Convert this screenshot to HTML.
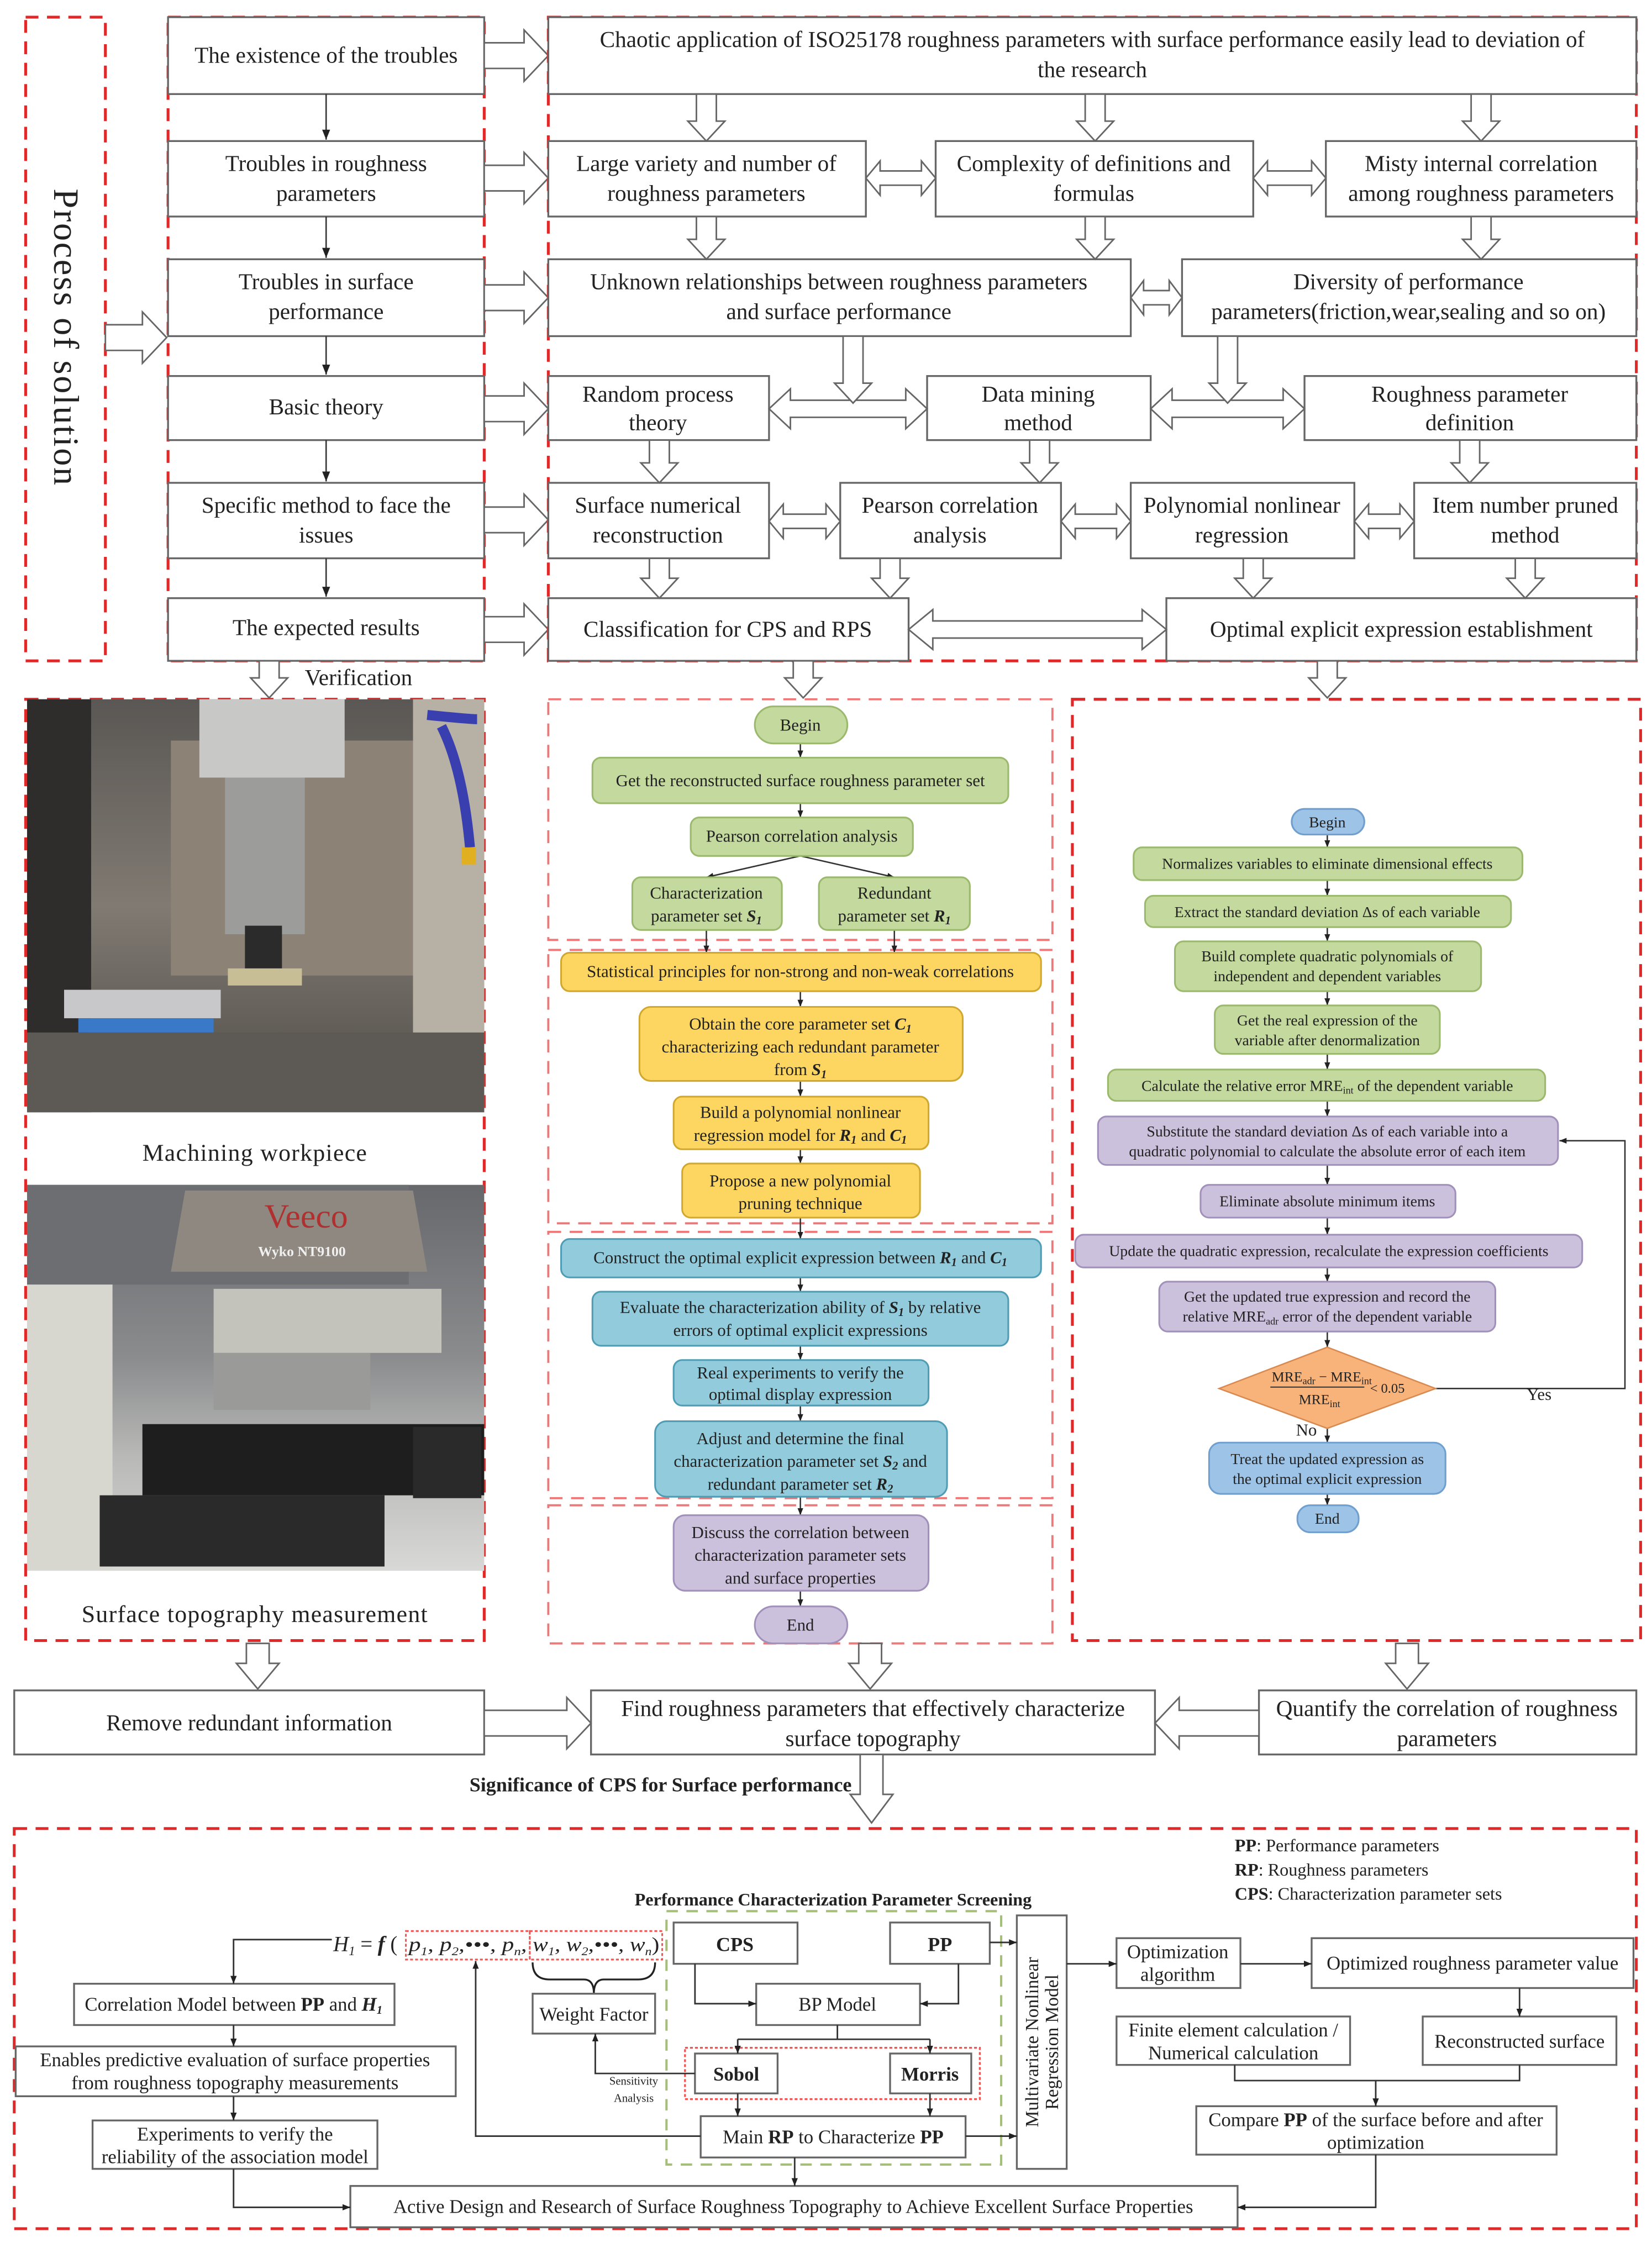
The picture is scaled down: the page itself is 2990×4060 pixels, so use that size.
<!DOCTYPE html>
<html><head><meta charset="utf-8"><style>
html,body{margin:0;padding:0;background:#fff;}
svg{display:block;}
text{font-family:"Liberation Serif",serif;fill:#222;}
.bx{fill:#fff;stroke:#666;stroke-width:1.3;}
.rd{fill:none;stroke:#e02828;stroke-width:2;stroke-dasharray:9 6;}
.rdl{fill:none;stroke:#ee7777;stroke-width:1.5;stroke-dasharray:9 6;}
.ha{fill:#fff;stroke:#666;stroke-width:1.1;}
.ln{fill:none;stroke:#333;stroke-width:1;}
.g{fill:#c4d99e;stroke:#9ab96c;stroke-width:1.2;}
.y{fill:#fdd561;stroke:#d0a830;stroke-width:1.2;}
.c{fill:#92ccdc;stroke:#4f9db4;stroke-width:1.2;}
.p{fill:#ccc1dc;stroke:#a090ba;stroke-width:1.2;}
.bl{fill:#9dc3e6;stroke:#6f9fcf;stroke-width:1.2;}
.t16{font-size:16px;text-anchor:middle;}
.t12{font-size:12px;text-anchor:middle;}
.t11{font-size:10.8px;text-anchor:middle;}
.t13{font-size:13.5px;text-anchor:middle;}
</style></head><body>
<svg width="2990" height="4060" viewBox="0 0 1160 1575" xmlns="http://www.w3.org/2000/svg">
<defs>
<marker id="ar" viewBox="0 0 10 10" refX="10" refY="5" markerWidth="7" markerHeight="7" orient="auto-start-reverse"><path d="M0 1 L10 5 L0 9 z" fill="#222"/></marker>
<marker id="as" viewBox="0 0 10 10" refX="10" refY="5" markerWidth="5" markerHeight="5" orient="auto-start-reverse"><path d="M0 1 L10 5 L0 9 z" fill="#222"/></marker>
<linearGradient id="ph1" x1="0" y1="0" x2="0" y2="1"><stop offset="0" stop-color="#5a5754"/><stop offset="0.5" stop-color="#807a72"/><stop offset="1" stop-color="#4e4b47"/></linearGradient>
<linearGradient id="ph2" x1="0" y1="0" x2="0" y2="1"><stop offset="0" stop-color="#66686c"/><stop offset="0.45" stop-color="#8a8c8e"/><stop offset="0.7" stop-color="#b8b8b6"/><stop offset="1" stop-color="#d8d8d6"/></linearGradient>
</defs>
<rect width="1160" height="1575" fill="#fff"/>

<!-- ============ TOP SECTION ============ -->
<rect class="rd" x="18" y="12" width="56" height="452"/>
<text transform="translate(38,237) rotate(90)" style="font-size:25px;text-anchor:middle;letter-spacing:1px">Process  of solution</text>
<path class="ha" d="M74 228 H100 v-9 l17 18 l-17 18 v-9 H74 z"/>

<rect class="rd" x="118" y="12" width="222" height="452"/>
<rect class="bx" x="118" y="12" width="222" height="54"/>
<rect class="bx" x="118" y="99" width="222" height="53"/>
<rect class="bx" x="118" y="182" width="222" height="54"/>
<rect class="bx" x="118" y="264" width="222" height="45"/>
<rect class="bx" x="118" y="339" width="222" height="53"/>
<rect class="bx" x="118" y="420" width="222" height="44"/>
<text class="t16" x="229" y="44">The existence of the troubles</text>
<text class="t16" x="229" y="120">Troubles in roughness</text><text class="t16" x="229" y="141">parameters</text>
<text class="t16" x="229" y="203">Troubles in surface</text><text class="t16" x="229" y="224">performance</text>
<text class="t16" x="229" y="291">Basic theory</text>
<text class="t16" x="229" y="360">Specific method to face the</text><text class="t16" x="229" y="381">issues</text>
<text class="t16" x="229" y="446">The expected results</text>
<g class="ln" marker-end="url(#ar)">
<line x1="229" y1="66" x2="229" y2="98"/><line x1="229" y1="152" x2="229" y2="181"/>
<line x1="229" y1="236" x2="229" y2="263"/><line x1="229" y1="309" x2="229" y2="338"/>
<line x1="229" y1="392" x2="229" y2="419"/>
</g>
<path class="ha" d="M340 30 H368 v-9 l17 18 l-17 18 v-9 H340 z"/>
<path class="ha" d="M340 116 H368 v-9 l17 18 l-17 18 v-9 H340 z"/>
<path class="ha" d="M340 200 H368 v-9 l17 18 l-17 18 v-9 H340 z"/>
<path class="ha" d="M340 278 H368 v-9 l17 18 l-17 18 v-9 H340 z"/>
<path class="ha" d="M340 356 H368 v-9 l17 18 l-17 18 v-9 H340 z"/>
<path class="ha" d="M340 433 H368 v-9 l17 18 l-17 18 v-9 H340 z"/>

<rect class="rd" x="385" y="12" width="764" height="452"/>
<rect class="bx" x="385" y="12" width="764" height="54"/>
<text class="t16" x="767" y="33">Chaotic application of ISO25178 roughness parameters with surface performance  easily lead to deviation of</text>
<text class="t16" x="767" y="54">the research</text>
<rect class="bx" x="385" y="99" width="223" height="53"/>
<rect class="bx" x="657" y="99" width="223" height="53"/>
<rect class="bx" x="931" y="99" width="218" height="53"/>
<text class="t16" x="496" y="120">Large variety and number of</text><text class="t16" x="496" y="141">roughness parameters</text>
<text class="t16" x="768" y="120">Complexity of definitions and</text><text class="t16" x="768" y="141">formulas</text>
<text class="t16" x="1040" y="120">Misty  internal correlation</text><text class="t16" x="1040" y="141">among roughness parameters</text>
<rect class="bx" x="385" y="182" width="409" height="54"/>
<rect class="bx" x="830" y="182" width="319" height="54"/>
<text class="t16" x="589" y="203">Unknown relationships between roughness parameters</text><text class="t16" x="589" y="224">and surface performance</text>
<text class="t16" x="989" y="203">Diversity of performance</text><text class="t16" x="989" y="224">parameters(friction,wear,sealing and so on)</text>
<rect class="bx" x="385" y="264" width="155" height="45"/>
<rect class="bx" x="651" y="264" width="157" height="45"/>
<rect class="bx" x="916" y="264" width="233" height="45"/>
<text class="t16" x="462" y="282">Random process</text><text class="t16" x="462" y="302">theory</text>
<text class="t16" x="729" y="282">Data mining</text><text class="t16" x="729" y="302">method</text>
<text class="t16" x="1032" y="282">Roughness parameter</text><text class="t16" x="1032" y="302">definition</text>
<rect class="bx" x="385" y="339" width="155" height="53"/>
<rect class="bx" x="590" y="339" width="155" height="53"/>
<rect class="bx" x="794" y="339" width="157" height="53"/>
<rect class="bx" x="993" y="339" width="156" height="53"/>
<text class="t16" x="462" y="360">Surface numerical</text><text class="t16" x="462" y="381">reconstruction</text>
<text class="t16" x="667" y="360">Pearson correlation</text><text class="t16" x="667" y="381">analysis</text>
<text class="t16" x="872" y="360">Polynomial nonlinear</text><text class="t16" x="872" y="381">regression</text>
<text class="t16" x="1071" y="360">Item number pruned</text><text class="t16" x="1071" y="381">method</text>
<rect class="bx" x="385" y="420" width="253" height="44"/>
<rect class="bx" x="819" y="420" width="330" height="44"/>
<text class="t16" x="511" y="447">Classification for CPS and RPS</text>
<text class="t16" x="984" y="447">Optimal explicit expression establishment</text>

<!-- double arrows -->
<path class="ha" d="M608 125 l10 -12 v7 H647 v-7 l10 12 l-10 12 v-7 H618 v7 z"/>
<path class="ha" d="M880 125 l10 -12 v7 H921 v-7 l10 12 l-10 12 v-7 H890 v7 z"/>
<path class="ha" d="M794 209 l9 -12 v7 H821 v-7 l9 12 l-9 12 v-7 H803 v7 z"/>
<path class="ha" d="M540 287 l15 -14 v8 H636 v-8 l15 14 l-15 14 v-8 H555 v8 z"/>
<path class="ha" d="M808 287 l15 -14 v8 H901 v-8 l15 14 l-15 14 v-8 H823 v8 z"/>
<path class="ha" d="M540 366 l10 -12 v7 H580 v-7 l10 12 l-10 12 v-7 H550 v7 z"/>
<path class="ha" d="M745 366 l10 -12 v7 H784 v-7 l10 12 l-10 12 v-7 H755 v7 z"/>
<path class="ha" d="M951 366 l10 -12 v7 H983 v-7 l10 12 l-10 12 v-7 H961 v7 z"/>
<path class="ha" d="M638 442 l17 -14 v8 H802 v-8 l17 14 l-17 14 v-8 H655 v8 z"/>
<!-- down hollow arrows -->
<path class="ha" d="M489 66 h14 v19 h6 l-13 14 l-13 -14 h6 z"/>
<path class="ha" d="M762 66 h14 v19 h6 l-13 14 l-13 -14 h6 z"/>
<path class="ha" d="M1033 66 h14 v19 h6 l-13 14 l-13 -14 h6 z"/>
<path class="ha" d="M489 152 h14 v16 h6 l-13 14 l-13 -14 h6 z"/>
<path class="ha" d="M762 152 h14 v16 h6 l-13 14 l-13 -14 h6 z"/>
<path class="ha" d="M1033 152 h14 v16 h6 l-13 14 l-13 -14 h6 z"/>
<path class="ha" d="M592 236 h14 v33 h6 l-13 14 l-13 -14 h6 z"/>
<path class="ha" d="M855 236 h14 v33 h6 l-13 14 l-13 -14 h6 z"/>
<path class="ha" d="M456 309 h14 v16 h6 l-13 14 l-13 -14 h6 z"/>
<path class="ha" d="M723 309 h14 v16 h6 l-13 14 l-13 -14 h6 z"/>
<path class="ha" d="M1025 309 h14 v16 h6 l-13 14 l-13 -14 h6 z"/>
<path class="ha" d="M456 392 h14 v14 h6 l-13 14 l-13 -14 h6 z"/>
<path class="ha" d="M618 392 h14 v14 h6 l-13 14 l-13 -14 h6 z"/>
<path class="ha" d="M873 392 h14 v14 h6 l-13 14 l-13 -14 h6 z"/>
<path class="ha" d="M1064 392 h14 v14 h6 l-13 14 l-13 -14 h6 z"/>
<path class="ha" d="M182 464 h14 v12 h6 l-13 14 l-13 -14 h6 z"/>
<path class="ha" d="M557 464 h14 v12 h6 l-13 14 l-13 -14 h6 z"/>
<path class="ha" d="M925 464 h14 v12 h6 l-13 14 l-13 -14 h6 z"/>
<text x="214" y="481" style="font-size:16px">Verification</text>

<!-- ============ PHOTOS ============ -->
<rect class="rd" x="18" y="491" width="322" height="661"/>
<rect x="19" y="491" width="321" height="290" fill="url(#ph1)"/>
<rect x="19" y="491" width="45" height="290" fill="#2e2d2c"/>
<rect x="120" y="520" width="170" height="165" fill="#8d8276"/>
<rect x="290" y="491" width="50" height="290" fill="#b7b0a4"/>
<rect x="140" y="491" width="102" height="55" fill="#c8c8c6"/>
<rect x="158" y="546" width="56" height="110" fill="#9c9c9a"/>
<rect x="172" y="650" width="26" height="30" fill="#2b2b2b"/>
<rect x="160" y="680" width="52" height="12" fill="#c8be96"/>
<rect x="45" y="695" width="110" height="20" fill="#c8c8ca"/>
<rect x="55" y="715" width="95" height="10" fill="#3a78c8"/>
<rect x="19" y="725" width="321" height="56" fill="#5d5954"/>
<path d="M300 502 Q330 505 335 505 M310 510 Q325 540 330 595" stroke="#3a3fb0" stroke-width="7" fill="none"/>
<rect x="324" y="595" width="10" height="12" fill="#e0b020"/>
<text x="179" y="815" style="font-size:17px;text-anchor:middle;letter-spacing:0.5px">Machining workpiece</text>
<rect x="19" y="832" width="321" height="271" fill="url(#ph2)"/>
<rect x="19" y="832" width="268" height="70" fill="#6c6e72"/>
<path d="M130 836 H290 L300 893 H120 z" fill="#8e8880"/>
<text x="215" y="862" style="font-size:24px;text-anchor:middle;fill:#b03030">Veeco</text>
<text x="212" y="882" style="font-size:10px;text-anchor:middle;fill:#f0f0f0;font-weight:bold">Wyko NT9100</text>
<rect x="19" y="902" width="60" height="200" fill="#d7d6cf"/>
<rect x="150" y="905" width="160" height="45" fill="#c3c2bb"/>
<rect x="150" y="950" width="110" height="40" fill="#9a9a98"/>
<rect x="100" y="1000" width="240" height="50" fill="#1e1e1e"/>
<rect x="70" y="1050" width="200" height="50" fill="#2a2a2a"/>
<rect x="290" y="1002" width="48" height="50" fill="#2a2a2a"/>
<text x="179" y="1139" style="font-size:17px;text-anchor:middle;letter-spacing:0.5px">Surface topography measurement</text>

<!-- ============ MIDDLE FLOW ============ -->
<rect class="rdl" x="385" y="491" width="354" height="169"/>
<rect class="rdl" x="385" y="667" width="354" height="192"/>
<rect class="rdl" x="385" y="865" width="354" height="187"/>
<rect class="rdl" x="385" y="1057" width="354" height="97"/>
<g class="ln" marker-end="url(#as)">
<line x1="562" y1="522" x2="562" y2="532"/>
<line x1="562" y1="564" x2="562" y2="574"/>
<line x1="562" y1="601" x2="496" y2="616"/>
<line x1="562" y1="601" x2="628" y2="616"/>
<line x1="496" y1="653" x2="496" y2="669"/>
<line x1="628" y1="653" x2="628" y2="669"/>
<line x1="562" y1="696" x2="562" y2="707"/>
<line x1="562" y1="759" x2="562" y2="770"/>
<line x1="562" y1="807" x2="562" y2="817"/>
<line x1="562" y1="855" x2="562" y2="870"/>
<line x1="562" y1="897" x2="562" y2="907"/>
<line x1="562" y1="945" x2="562" y2="955"/>
<line x1="562" y1="987" x2="562" y2="998"/>
<line x1="562" y1="1051" x2="562" y2="1064"/>
<line x1="562" y1="1117" x2="562" y2="1128"/>
</g>
<rect class="g" x="530" y="496" width="65" height="26" rx="13"/>
<text class="t12" x="562" y="513">Begin</text>
<rect class="g" x="416" y="532" width="292" height="32" rx="6"/>
<text class="t12" x="562" y="552">Get the reconstructed surface roughness parameter set</text>
<rect class="g" x="485" y="574" width="156" height="27" rx="6"/>
<text class="t12" x="563" y="591">Pearson correlation analysis</text>
<rect class="g" x="444" y="616" width="105" height="37" rx="6"/>
<text class="t12" x="496" y="631">Characterization</text>
<text class="t12" x="496" y="647">parameter set <tspan font-weight="bold" font-style="italic">S<tspan font-size="8" dy="2">1</tspan></tspan></text>
<rect class="g" x="575" y="616" width="106" height="37" rx="6"/>
<text class="t12" x="628" y="631">Redundant</text>
<text class="t12" x="628" y="647">parameter set <tspan font-weight="bold" font-style="italic">R<tspan font-size="8" dy="2">1</tspan></tspan></text>

<rect class="y" x="394" y="669" width="337" height="27" rx="6"/>
<text class="t12" x="562" y="686">Statistical principles for non-strong and non-weak correlations</text>
<rect class="y" x="449" y="707" width="227" height="52" rx="8"/>
<text class="t12" x="562" y="723">Obtain the core parameter set <tspan font-weight="bold" font-style="italic">C<tspan font-size="8" dy="2">1</tspan></tspan></text>
<text class="t12" x="562" y="739">characterizing each redundant parameter</text>
<text class="t12" x="562" y="755">from <tspan font-weight="bold" font-style="italic">S<tspan font-size="8" dy="2">1</tspan></tspan></text>
<rect class="y" x="473" y="770" width="179" height="37" rx="6"/>
<text class="t12" x="562" y="785">Build a polynomial nonlinear</text>
<text class="t12" x="562" y="801">regression model for <tspan font-weight="bold" font-style="italic">R<tspan font-size="8" dy="2">1</tspan></tspan><tspan dy="-2"> and </tspan><tspan font-weight="bold" font-style="italic">C<tspan font-size="8" dy="2">1</tspan></tspan></text>
<rect class="y" x="479" y="817" width="167" height="38" rx="6"/>
<text class="t12" x="562" y="833">Propose a new polynomial</text>
<text class="t12" x="562" y="849">pruning technique</text>

<rect class="c" x="394" y="870" width="337" height="27" rx="6"/>
<text class="t12" x="562" y="887">Construct the optimal explicit expression between <tspan font-weight="bold" font-style="italic">R<tspan font-size="8" dy="2">1</tspan></tspan><tspan dy="-2"> and </tspan><tspan font-weight="bold" font-style="italic">C<tspan font-size="8" dy="2">1</tspan></tspan></text>
<rect class="c" x="416" y="907" width="292" height="38" rx="6"/>
<text class="t12" x="562" y="922">Evaluate the characterization ability of <tspan font-weight="bold" font-style="italic">S<tspan font-size="8" dy="2">1</tspan></tspan><tspan dy="-2"> by relative</tspan></text>
<text class="t12" x="562" y="938">errors of optimal explicit expressions</text>
<rect class="c" x="473" y="955" width="179" height="32" rx="6"/>
<text class="t12" x="562" y="968">Real experiments to verify the</text>
<text class="t12" x="562" y="983">optimal display expression</text>
<rect class="c" x="460" y="998" width="205" height="53" rx="8"/>
<text class="t12" x="562" y="1014">Adjust and determine the final</text>
<text class="t12" x="562" y="1030">characterization parameter set <tspan font-weight="bold" font-style="italic">S<tspan font-size="8" dy="2">2</tspan></tspan><tspan dy="-2"> and</tspan></text>
<text class="t12" x="562" y="1046">redundant parameter set <tspan font-weight="bold" font-style="italic">R<tspan font-size="8" dy="2">2</tspan></tspan></text>

<rect class="p" x="473" y="1064" width="179" height="53" rx="8"/>
<text class="t12" x="562" y="1080">Discuss the correlation between</text>
<text class="t12" x="562" y="1096">characterization parameter sets</text>
<text class="t12" x="562" y="1112">and surface properties</text>
<rect class="p" x="530" y="1128" width="65" height="26" rx="13"/>
<text class="t12" x="562" y="1145">End</text>

<!-- ============ RIGHT FLOW ============ -->
<rect class="rd" x="753" y="491" width="399" height="661"/>
<g class="ln" marker-end="url(#as)">
<line x1="932" y1="586" x2="932" y2="595"/>
<line x1="932" y1="618" x2="932" y2="629"/>
<line x1="932" y1="651" x2="932" y2="661"/>
<line x1="932" y1="696" x2="932" y2="706"/>
<line x1="932" y1="740" x2="932" y2="751"/>
<line x1="932" y1="773" x2="932" y2="784"/>
<line x1="932" y1="818" x2="932" y2="832"/>
<line x1="932" y1="855" x2="932" y2="867"/>
<line x1="932" y1="890" x2="932" y2="900"/>
<line x1="932" y1="935" x2="932" y2="946"/>
<line x1="932" y1="1003" x2="932" y2="1013"/>
<line x1="932" y1="1049" x2="932" y2="1057"/>
<polyline points="1008,975 1141,975 1141,801 1095,801"/>
</g>
<rect class="bl" x="907" y="568" width="51" height="18" rx="9"/>
<text class="t11" x="932" y="581">Begin</text>
<rect class="g" x="796" y="595" width="273" height="23" rx="6"/>
<text class="t11" x="932" y="610">Normalizes variables to eliminate dimensional effects</text>
<rect class="g" x="804" y="629" width="257" height="22" rx="6"/>
<text class="t11" x="932" y="644">Extract the standard deviation Δs  of each variable</text>
<rect class="g" x="825" y="661" width="215" height="35" rx="6"/>
<text class="t11" x="932" y="675">Build complete quadratic polynomials of</text>
<text class="t11" x="932" y="689">independent and dependent variables</text>
<rect class="g" x="853" y="706" width="158" height="34" rx="6"/>
<text class="t11" x="932" y="720">Get the real expression of the</text>
<text class="t11" x="932" y="734">variable after denormalization</text>
<rect class="g" x="778" y="751" width="307" height="22" rx="6"/>
<text class="t11" x="932" y="766">Calculate the relative error MRE<tspan font-size="7" dy="2">int</tspan><tspan dy="-2"> of the dependent variable</tspan></text>
<rect class="p" x="771" y="784" width="323" height="34" rx="6"/>
<text class="t11" x="932" y="798">Substitute the standard deviation Δs of each variable into a</text>
<text class="t11" x="932" y="812">quadratic polynomial to calculate the absolute error of each item</text>
<rect class="p" x="843" y="832" width="179" height="23" rx="6"/>
<text class="t11" x="932" y="847">Eliminate absolute minimum items</text>
<rect class="p" x="755" y="867" width="356" height="23" rx="6"/>
<text class="t11" x="933" y="882">Update the quadratic expression, recalculate the expression coefficients</text>
<rect class="p" x="814" y="900" width="236" height="35" rx="6"/>
<text class="t11" x="932" y="914">Get the updated true expression and record the</text>
<text class="t11" x="932" y="928">relative MRE<tspan font-size="7" dy="2">adr</tspan><tspan dy="-2"> error of the dependent variable</tspan></text>
<polygon points="932,946 1008,975 932,1003 856,975" fill="#f8b37b" stroke="#d88a50" stroke-width="1"/>
<text x="893" y="970" style="font-size:10px">MRE<tspan font-size="7" dy="2">adr</tspan><tspan dy="-2"> − MRE</tspan><tspan font-size="7" dy="2">int</tspan></text>
<line x1="892" y1="974" x2="958" y2="974" stroke="#333" stroke-width="0.8"/>
<text x="912" y="986" style="font-size:10px">MRE<tspan font-size="7" dy="2">int</tspan></text>
<text x="962" y="978" style="font-size:9.5px">&lt; 0.05</text>
<text x="1072" y="983" style="font-size:12px">Yes</text>
<text x="910" y="1008" style="font-size:12px">No</text>
<rect class="bl" x="849" y="1013" width="166" height="36" rx="8"/>
<text class="t11" x="932" y="1028">Treat the updated expression as</text>
<text class="t11" x="932" y="1042">the optimal explicit expression</text>
<rect class="bl" x="911" y="1057" width="43" height="19" rx="9"/>
<text class="t11" x="932" y="1070">End</text>

<!-- ============ BOTTOM CONNECTOR ROW ============ -->
<path class="ha" d="M173 1154 h16 v14 h7 l-15 18 l-15 -18 h7 z"/>
<path class="ha" d="M603 1154 h16 v14 h7 l-15 18 l-15 -18 h7 z"/>
<path class="ha" d="M980 1154 h16 v14 h7 l-15 18 l-15 -18 h7 z"/>
<rect class="bx" x="10" y="1187" width="330" height="45"/>
<text class="t16" x="175" y="1215">Remove redundant information</text>
<rect class="bx" x="415" y="1187" width="396" height="45"/>
<text class="t16" x="613" y="1205">Find roughness parameters that effectively characterize</text>
<text class="t16" x="613" y="1226">surface topography</text>
<rect class="bx" x="884" y="1187" width="265" height="45"/>
<text class="t16" x="1016" y="1205">Quantify the correlation of roughness</text>
<text class="t16" x="1016" y="1226">parameters</text>
<path class="ha" d="M340 1201 H398 v-9 l17 18 l-17 18 v-9 H340 z"/>
<path class="ha" d="M884 1201 H828 v-9 l-17 18 l17 18 v-9 H884 z"/>
<path class="ha" d="M604 1232 h16 v28 h7 l-15 20 l-15 -20 h7 z"/>
<text x="598" y="1258" style="font-size:14px;font-weight:bold;text-anchor:end">Significance of CPS for Surface performance</text>

<!-- ============ BOTTOM BOX ============ -->
<rect class="rd" x="10" y="1284" width="1139" height="281"/>
<text x="867" y="1300" style="font-size:12.5px"><tspan font-weight="bold">PP</tspan>: Performance parameters</text>
<text x="867" y="1317" style="font-size:12.5px"><tspan font-weight="bold">RP</tspan>: Roughness parameters</text>
<text x="867" y="1334" style="font-size:12.5px"><tspan font-weight="bold">CPS</tspan>:  Characterization parameter sets</text>
<text x="585" y="1338" style="font-size:12.5px;font-weight:bold;text-anchor:middle">Performance Characterization Parameter Screening</text>
<rect x="468" y="1342" width="235" height="178" fill="none" stroke="#a5bf7a" stroke-width="1.6" stroke-dasharray="8 6"/>

<rect class="bx" x="473" y="1350" width="87" height="29"/>
<text x="516" y="1370" style="font-size:14px;font-weight:bold;text-anchor:middle">CPS</text>
<rect class="bx" x="625" y="1350" width="70" height="29"/>
<text x="660" y="1370" style="font-size:14px;font-weight:bold;text-anchor:middle">PP</text>
<rect class="bx" x="531" y="1393" width="115" height="29"/>
<text class="t13" x="588" y="1412">BP Model</text>
<rect x="481" y="1438" width="207" height="36" fill="none" stroke="#ee5555" stroke-width="1.3" stroke-dasharray="2 1.5"/>
<rect class="bx" x="488" y="1442" width="58" height="28"/>
<text x="517" y="1461" style="font-size:13.5px;font-weight:bold;text-anchor:middle">Sobol</text>
<rect class="bx" x="625" y="1442" width="57" height="28"/>
<text x="653" y="1461" style="font-size:13.5px;font-weight:bold;text-anchor:middle">Morris</text>
<rect class="bx" x="492" y="1486" width="186" height="29"/>
<text class="t13" x="585" y="1505">Main <tspan font-weight="bold">RP</tspan> to Characterize <tspan font-weight="bold">PP</tspan></text>
<rect class="bx" x="714" y="1345" width="35" height="178"/>
<text transform="translate(729,1434) rotate(-90)" style="font-size:13px;text-anchor:middle">Multivariate Nonlinear</text>
<text transform="translate(743,1434) rotate(-90)" style="font-size:13px;text-anchor:middle">Regression Model</text>

<text x="234" y="1370" style="font-size:15px;font-style:italic">H<tspan font-size="9" dy="3">1</tspan><tspan dy="-3" font-style="normal"> = </tspan><tspan font-weight="bold">f</tspan><tspan font-style="normal"> (</tspan></text>
<text x="287" y="1370" textLength="83" lengthAdjust="spacingAndGlyphs" style="font-size:14px;font-style:italic">p<tspan font-size="8" dy="3">1</tspan><tspan dy="-3">, p</tspan><tspan font-size="8" dy="3">2</tspan><tspan dy="-3">,•••, p</tspan><tspan font-size="8" dy="3">n</tspan><tspan dy="-3">,</tspan></text>
<text x="374" y="1370" textLength="89" lengthAdjust="spacingAndGlyphs" style="font-size:14px;font-style:italic">w<tspan font-size="8" dy="3">1</tspan><tspan dy="-3">, w</tspan><tspan font-size="8" dy="3">2</tspan><tspan dy="-3">,•••, w</tspan><tspan font-size="8" dy="3">n</tspan><tspan dy="-3" font-style="normal">)</tspan></text>
<rect x="285" y="1356" width="87" height="20" fill="none" stroke="#ee5555" stroke-width="1.2" stroke-dasharray="2 1.5"/>
<rect x="372" y="1356" width="93" height="20" fill="none" stroke="#ee5555" stroke-width="1.2" stroke-dasharray="2 1.5"/>
<path d="M374 1378 Q374 1390 386 1390 H410 Q417 1390 417 1400 Q417 1390 424 1390 H448 Q460 1390 460 1378" fill="none" stroke="#222" stroke-width="1.3"/>
<rect class="bx" x="374" y="1400" width="86" height="28"/>
<text class="t13" x="417" y="1419">Weight Factor</text>
<text x="445" y="1464" style="font-size:8px;text-anchor:middle">Sensitivity</text>
<text x="445" y="1476" style="font-size:8px;text-anchor:middle">Analysis</text>

<rect class="bx" x="52" y="1393" width="225" height="29"/>
<text class="t13" x="164" y="1412">Correlation Model between <tspan font-weight="bold">PP</tspan> and <tspan font-weight="bold" font-style="italic">H<tspan font-size="8" dy="2">1</tspan></tspan></text>
<rect class="bx" x="11" y="1437" width="309" height="35"/>
<text class="t13" x="165" y="1451">Enables predictive evaluation of surface properties</text>
<text class="t13" x="165" y="1467">from roughness topography measurements</text>
<rect class="bx" x="65" y="1489" width="200" height="34"/>
<text class="t13" x="165" y="1503">Experiments to verify the</text>
<text class="t13" x="165" y="1519">reliability of the association model</text>
<rect class="bx" x="246" y="1535" width="623" height="29"/>
<text class="t13" x="557" y="1554">Active Design and Research of Surface Roughness Topography to Achieve Excellent Surface Properties</text>

<rect class="bx" x="784" y="1361" width="87" height="35"/>
<text class="t13" x="827" y="1375">Optimization</text><text class="t13" x="827" y="1391">algorithm</text>
<rect class="bx" x="921" y="1361" width="226" height="35"/>
<text class="t13" x="1034" y="1383">Optimized roughness parameter value</text>
<rect class="bx" x="784" y="1416" width="164" height="34"/>
<text class="t13" x="866" y="1430">Finite element calculation /</text><text class="t13" x="866" y="1446">Numerical calculation</text>
<rect class="bx" x="999" y="1416" width="136" height="34"/>
<text class="t13" x="1067" y="1438">Reconstructed surface</text>
<rect class="bx" x="840" y="1479" width="253" height="34"/>
<text class="t13" x="966" y="1493">Compare <tspan font-weight="bold">PP</tspan> of the surface before and after</text>
<text class="t13" x="966" y="1509">optimization</text>

<g class="ln" marker-end="url(#as)" style="stroke-width:1.1">
<polyline points="233,1362 164,1362 164,1393"/>
<line x1="164" y1="1422" x2="164" y2="1437"/>
<line x1="164" y1="1472" x2="164" y2="1489"/>
<polyline points="164,1523 164,1550 246,1550"/>
<polyline points="492,1500 334,1500 334,1377"/>
<polyline points="488,1456 418,1456 418,1428"/>
<polyline points="488,1379 488,1407 531,1407"/>
<polyline points="673,1379 673,1407 646,1407"/>
<line x1="518" y1="1432" x2="518" y2="1442"/>
<line x1="653" y1="1432" x2="653" y2="1442"/>
<line x1="518" y1="1470" x2="518" y2="1486"/>
<line x1="653" y1="1470" x2="653" y2="1486"/>
<line x1="695" y1="1364" x2="714" y2="1364"/>
<line x1="678" y1="1500" x2="714" y2="1500"/>
<line x1="558" y1="1515" x2="558" y2="1535"/>
<line x1="749" y1="1379" x2="784" y2="1379"/>
<line x1="871" y1="1379" x2="921" y2="1379"/>
<line x1="1067" y1="1396" x2="1067" y2="1416"/>
<line x1="966" y1="1461" x2="966" y2="1479"/>
<polyline points="966,1513 966,1550 869,1550"/>
</g>
<g class="ln" style="stroke-width:1.1">
<line x1="588" y1="1422" x2="588" y2="1432"/>
<line x1="518" y1="1432" x2="653" y2="1432"/>
<polyline points="867,1450 867,1461 1067,1461 1067,1450"/>
</g>
</svg>
</body></html>
